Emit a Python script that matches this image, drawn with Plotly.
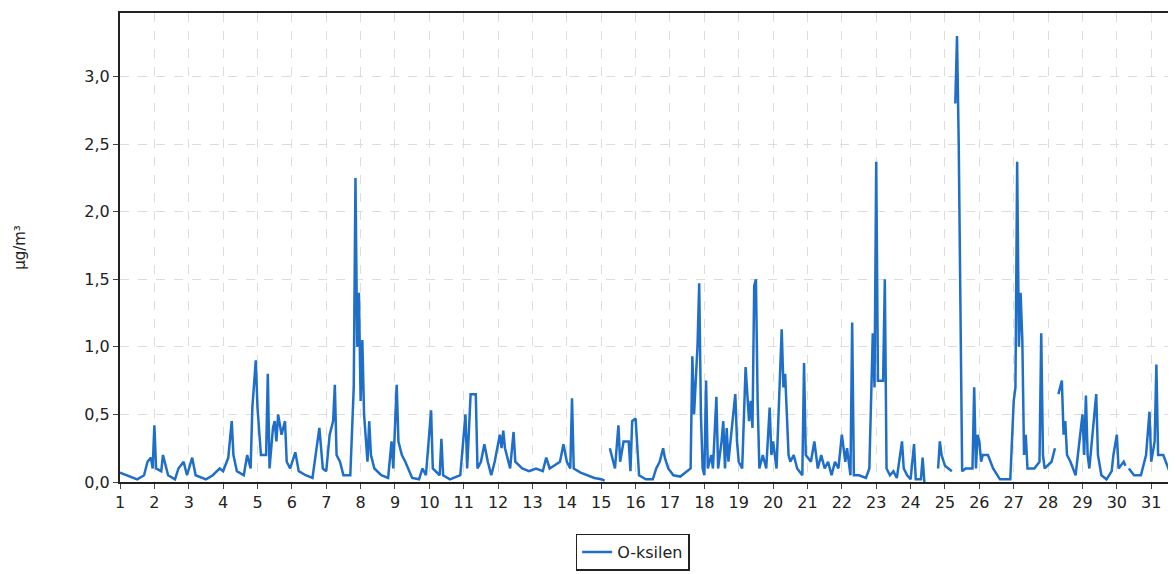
import plotly.graph_objects as go

# day of month (fractional) and O-ksilen concentration, None = missing
day = [1.0, 1.2, 1.5, 1.7, 1.8, 1.9, 1.95, 2.0, 2.05, 2.2, 2.25, 2.4, 2.6, 2.7, 2.85, 2.95,
       3.1, 3.2, 3.5, 3.7, 3.9, 4.0, 4.15, 4.25, 4.3, 4.4, 4.6, 4.7, 4.8, 4.85, 4.95,
       5.0, 5.1, 5.25, 5.3, 5.35, 5.45, 5.5, 5.55, 5.6, 5.7, 5.8, 5.85, 5.95,
       6.1, 6.2, 6.4, 6.6, 6.75, 6.8, 6.9, 7.0, 7.1, 7.2, 7.25, 7.3, 7.4, 7.5, 7.7,
       7.8, 7.85, 7.9, 7.95, 8.0, 8.05, 8.1, 8.2, 8.25, 8.3, 8.4, 8.6, 8.8, 8.9, 8.95,
       9.05, 9.1, 9.2, 9.3, 9.5, 9.7, 9.8, 9.9, 10.05, 10.1, 10.3, 10.35, 10.4, 10.6, 10.9,
       11.0, 11.05, 11.1, 11.2, 11.35, 11.4, 11.5, 11.6, 11.7, 11.8, 11.9,
       12.05, 12.1, 12.15, 12.2, 12.35, 12.45, 12.5, 12.7, 12.9, 13.1, 13.3, 13.4, 13.5,
       13.8, 13.9, 14.0, 14.1, 14.15, 14.2, 14.4, 14.6, 14.8, 15.0, 15.1, 15.17,
       15.25, 15.4, 15.5, 15.55, 15.65, 15.8, 15.85, 15.9, 16.0, 16.1, 16.3, 16.5, 16.6,
       16.7, 16.8, 16.85, 16.95, 17.1, 17.3, 17.6, 17.65, 17.7, 17.8, 17.85, 17.9, 17.95,
       18.0, 18.05, 18.1, 18.2, 18.25, 18.35, 18.4, 18.5, 18.55, 18.6, 18.65, 18.7, 18.9,
       18.95, 19.0, 19.1, 19.2, 19.3, 19.35, 19.4, 19.45, 19.5, 19.55, 19.6, 19.7, 19.8,
       19.9, 19.95, 20.0, 20.1, 20.25, 20.3, 20.35, 20.45, 20.5, 20.6, 20.7, 20.85, 20.9,
       20.95, 21.1, 21.2, 21.3, 21.4, 21.5, 21.6, 21.7, 21.8, 21.9, 22.0, 22.1, 22.15,
       22.25, 22.3, 22.35, 22.5, 22.7, 22.8, 22.9, 22.95, 23.0, 23.05, 23.2, 23.25, 23.3,
       23.4, 23.5, 23.6, 23.75, 23.8, 23.9, 24.0, 24.1, 24.15, 24.3, 24.35, 24.4, 24.6,
       24.8, 24.85, 24.9, 25.0, 25.1, 25.2, 25.25, 25.3, 25.35, 25.4, 25.45, 25.5, 25.6,
       25.8, 25.85, 25.9, 25.95, 26.0, 26.05, 26.1, 26.25, 26.4, 26.6, 26.9, 27.0, 27.05,
       27.1, 27.15, 27.2, 27.25, 27.3, 27.35, 27.4, 27.6, 27.75, 27.8, 27.85, 27.9, 28.1,
       28.2, 28.25, 28.3, 28.4, 28.45, 28.5, 28.55, 28.65, 28.8, 28.9, 29.0, 29.05, 29.1,
       29.15, 29.2, 29.4, 29.45, 29.55, 29.7, 29.85, 29.9, 30.0, 30.05, 30.2, 30.25, 30.3,
       30.35, 30.5, 30.7, 30.85, 30.95, 31.0, 31.1, 31.15, 31.2, 31.35, 31.5, 31.6, 31.75]
conc = [0.07, 0.05, 0.02, 0.05, 0.15, 0.18, 0.1, 0.42, 0.1, 0.08, 0.2, 0.05, 0.02, 0.1, 0.15, 0.05,
        0.18, 0.05, 0.02, 0.05, 0.1, 0.08, 0.18, 0.45, 0.2, 0.08, 0.05, 0.2, 0.1, 0.55, 0.9,
        0.55, 0.2, 0.2, 0.8, 0.1, 0.4, 0.45, 0.3, 0.5, 0.35, 0.45, 0.15, 0.1,
        0.22, 0.08, 0.05, 0.03, 0.3, 0.4, 0.1, 0.08, 0.35, 0.45, 0.72, 0.2, 0.15, 0.05, 0.05,
        0.7, 2.25, 1.0, 1.4, 0.6, 1.05, 0.5, 0.15, 0.45, 0.2, 0.1, 0.05, 0.03, 0.3, 0.1,
        0.72, 0.3, 0.2, 0.15, 0.03, 0.02, 0.1, 0.05, 0.53, 0.1, 0.05, 0.32, 0.05, 0.02, 0.05,
        0.4, 0.5, 0.1, 0.65, 0.65, 0.1, 0.15, 0.28, 0.15, 0.05, 0.15,
        0.35, 0.25, 0.38, 0.25, 0.1, 0.37, 0.15, 0.1, 0.08, 0.1, 0.08, 0.18, 0.1,
        0.15, 0.28, 0.15, 0.1, 0.62, 0.1, 0.07, 0.05, 0.03, 0.02, 0.01, None,
        0.25, 0.1, 0.42, 0.15, 0.3, 0.3, 0.08, 0.45, 0.47, 0.05, 0.02, 0.02, 0.1,
        0.15, 0.25, 0.18, 0.1, 0.05, 0.04, 0.1, 0.93, 0.5, 1.0, 1.47, 0.5, 0.1,
        0.05, 0.75, 0.1, 0.2, 0.1, 0.63, 0.1, 0.3, 0.45, 0.1, 0.4, 0.15, 0.65,
        0.3, 0.15, 0.1, 0.85, 0.45, 0.6, 0.4, 1.45, 1.5, 0.6, 0.1, 0.2, 0.1,
        0.55, 0.2, 0.3, 0.1, 1.13, 0.7, 0.8, 0.2, 0.15, 0.2, 0.1, 0.05, 0.88,
        0.2, 0.15, 0.3, 0.1, 0.2, 0.1, 0.15, 0.05, 0.15, 0.1, 0.35, 0.15, 0.25,
        0.05, 1.18, 0.05, 0.05, 0.03, 0.1, 1.1, 0.7, 2.37, 0.75, 0.75, 1.5, 0.1,
        0.05, 0.08, 0.03, 0.3, 0.1, 0.05, 0.02, 0.28, 0.02, 0.02, 0.18, 0.0, None,
        0.1, 0.3, 0.2, 0.12, 0.1, 0.08, None, 2.8, 3.3, 2.5, 1.1, 0.08, 0.1,
        0.1, 0.7, 0.1, 0.35, 0.3, 0.15, 0.2, 0.2, 0.1, 0.02, 0.02, 0.6, 0.7,
        2.37, 1.0, 1.4, 1.05, 0.2, 0.35, 0.1, 0.1, 0.15, 1.1, 0.2, 0.1, 0.15,
        0.25, None, 0.65, 0.75, 0.35, 0.45, 0.2, 0.15, 0.05, 0.3, 0.5, 0.2, 0.64,
        0.2, 0.1, 0.65, 0.2, 0.05, 0.02, 0.08, 0.2, 0.35, 0.1, 0.15, 0.12, None,
        0.1, 0.05, 0.05, 0.2, 0.52, 0.15, 0.3, 0.87, 0.2, 0.2, 0.1, 0.03, 0.1]

tick_days = list(range(1, 32))
y_ticks = [0, 0.5, 1.0, 1.5, 2.0, 2.5, 3.0]

fig = go.Figure(go.Scatter(x=day, y=conc, mode="lines", name="O-ksilen",
                           line=dict(color="#1f6fc8", width=2.5), connectgaps=False))

fig.update_layout(
    width=1169, height=567, separators=", ",
    margin=dict(l=112, r=0, t=5, b=93, autoexpand=False),
    plot_bgcolor="white", paper_bgcolor="white",
    font=dict(family="DejaVu Sans", size=16, color="#222"),
    showlegend=True,
    legend=dict(orientation="h", x=0.485, xanchor="center", y=-0.11, yanchor="top",
                bordercolor="#222", borderwidth=1.5, font=dict(size=16)),
)
fig.update_xaxes(range=[1, 31.75], tickvals=tick_days, ticks="outside", ticklen=5,
                 automargin=False,
                 showline=True, linecolor="#222", linewidth=2, mirror=True,
                 showgrid=True, gridcolor="#ddd", griddash="dash", zeroline=False)
fig.update_yaxes(range=[0, 3.47], tickvals=y_ticks, tickformat=".1f", ticks="outside",
                 ticklen=5, automargin=False,
                 showline=True, linecolor="#222", linewidth=2, mirror=True,
                 showgrid=True, gridcolor="#ddd", griddash="dash", zeroline=False,
                 title=dict(text="µg/m³", standoff=55, font=dict(size=15)))

fig.write_html("out.html")
